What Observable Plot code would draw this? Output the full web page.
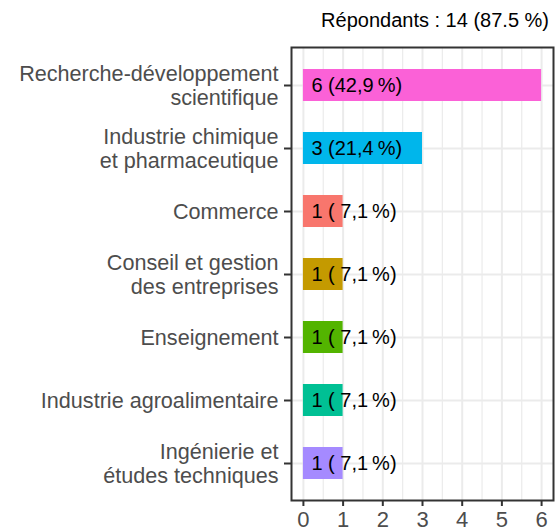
<!DOCTYPE html>
<html>
<head>
<meta charset="utf-8">
<script src="https://cdn.jsdelivr.net/npm/d3@7"></script>
<script src="https://cdn.jsdelivr.net/npm/@observablehq/plot@0.6"></script>
<style>
  body { margin: 0; background: #fff; font-family: "Liberation Sans", Arial, sans-serif; }
  #title { height: 40px; box-sizing: border-box; padding-top: 9px; padding-right: 6px; text-align: right; font-size: 20px; color: #000; }
</style>
</head>
<body>
<div id="title">Répondants : 14 (87.5 %)</div>
<div id="chart"></div>
<script>
const categories = [
  "Recherche-développement\nscientifique",
  "Industrie chimique\net pharmaceutique",
  "Commerce",
  "Conseil et gestion\ndes entreprises",
  "Enseignement",
  "Industrie agroalimentaire",
  "Ingénierie et\nétudes techniques"
];
const counts = [6, 3, 1, 1, 1, 1, 1];
const labels = ["6 (42,9\u202f%)", "3 (21,4\u202f%)", "1 ( 7,1\u202f%)", "1 ( 7,1\u202f%)", "1 ( 7,1\u202f%)", "1 ( 7,1\u202f%)", "1 ( 7,1\u202f%)"];
const colors = ["#FB61D7", "#00B6EB", "#F8766D", "#C49A00", "#53B400", "#00C094", "#A58AFF"];
const xTicks = [0, 1, 2, 3, 4, 5, 6];
const xMinor = [0.5, 1.5, 2.5, 3.5, 4.5, 5.5];

const data = categories.map((c, i) => ({cat: c, n: counts[i], label: labels[i], color: colors[i]}));

const plot = Plot.plot({
  width: 555,
  height: 491,
  marginLeft: 291,
  marginRight: 2,
  marginTop: 7,
  marginBottom: 31,
  style: {fontFamily: "Liberation Sans, Arial, sans-serif", background: "#fff"},
  x: {domain: [-0.3, 6.3]},
  y: {domain: categories, paddingInner: 0.5, paddingOuter: 0.32},
  marks: [
    Plot.ruleX(xMinor, {stroke: "#ebebeb", strokeWidth: 1.2}),
    Plot.ruleX(xTicks, {stroke: "#ebebeb", strokeWidth: 2}),
    Plot.ruleY(categories, {y: d => d, stroke: "#ebebeb", strokeWidth: 2}),
    Plot.barX(data, {x1: 0, x2: "n", y: "cat", fill: "color"}),
    Plot.text(data, {x: 0, y: "cat", text: "label", textAnchor: "start", dx: 8, fontSize: 20, fill: "#000"}),
    Plot.frame({stroke: "#333", strokeWidth: 2}),
    Plot.axisY({
      tickSize: 7, tickPadding: 6, stroke: "#333", strokeWidth: 2,
      fontSize: 21.6, fill: "#4d4d4d", lineHeight: 1.1, label: null
    }),
    Plot.axisX({
      ticks: xTicks, tickSize: 6, tickPadding: 5, stroke: "#333", strokeWidth: 2,
      fontSize: 22, fill: "#4d4d4d", label: null, tickFormat: d => String(d)
    })
  ]
});
document.getElementById("chart").appendChild(plot);
</script>
</body>
</html>
